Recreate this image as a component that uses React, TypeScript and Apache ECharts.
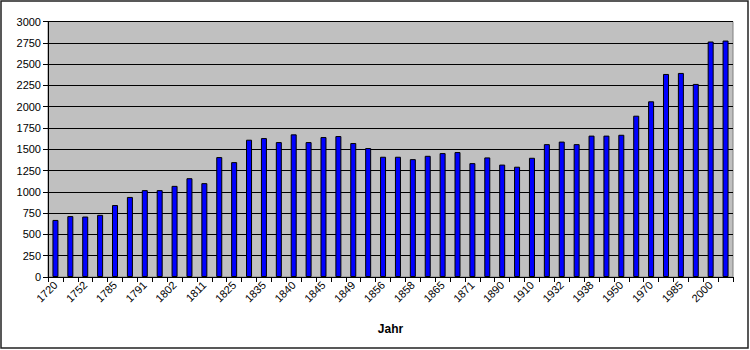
import React, { useEffect, useRef } from "react";
import * as echarts from "echarts";

const years: string[] = [
  "1720", "1740", "1752", "1770", "1785", "1789", "1791", "1800", "1802", "1805",
  "1811", "1818", "1825", "1830", "1835", "1837", "1840", "1843", "1845", "1847",
  "1849", "1852", "1856", "1857", "1858", "1861", "1865", "1867", "1871", "1880",
  "1890", "1900", "1910", "1925", "1932", "1935", "1938", "1946", "1950", "1961",
  "1970", "1980", "1985", "1990", "2000", "2005",
];

const population: number[] = [
  670, 715, 710, 730, 845, 940, 1020, 1020, 1070, 1160,
  1102, 1408, 1349, 1612, 1631, 1584, 1675, 1584, 1643, 1655,
  1573, 1514, 1412, 1412, 1384, 1423, 1455, 1467, 1337, 1404,
  1320, 1295, 1400, 1560, 1590, 1560, 1660, 1660, 1670, 1894,
  2063, 2384, 2396, 2267, 2765, 2776,
];

const yMax = 3000;
const yStep = 250;
const xTitle = "Jahr";

export default function App() {
  const ref = useRef<HTMLDivElement>(null);
  useEffect(() => {
    document.body.style.margin = "0";
    if (!ref.current) return;
    const chart = echarts.init(ref.current, null, { renderer: "svg" });
    chart.setOption({
      animation: false,
      backgroundColor: "#ffffff",
      textStyle: { fontFamily: "Liberation Sans, Arial, sans-serif" },
      graphic: [
        {
          type: "rect",
          shape: { x: 1, y: 1, width: 747, height: 347 },
          style: { fill: "none", stroke: "#222222", lineWidth: 1.5 },
          silent: true,
          z: 100,
        },
      ],
      grid: {
        left: 48,
        right: 17,
        top: 21.5,
        bottom: 73,
        show: true,
        backgroundColor: "#c0c0c0",
        borderColor: "#808080",
        borderWidth: 1,
      },
      xAxis: {
        type: "category",
        data: years,
        boundaryGap: true,
        name: xTitle,
        nameLocation: "middle",
        nameGap: 46,
        nameTextStyle: { fontWeight: "bold", fontSize: 12, color: "#000" },
        axisLine: { lineStyle: { color: "#000", width: 1 } },
        axisTick: { show: true, interval: 0, length: 5, lineStyle: { color: "#000" } },
        axisLabel: {
          interval: 1,
          rotate: 45,
          fontSize: 11,
          color: "#000",
          margin: 6,
        },
        splitLine: { show: false },
      },
      yAxis: {
        type: "value",
        min: 0,
        max: yMax,
        interval: yStep,
        axisLine: { show: true, lineStyle: { color: "#000", width: 1 } },
        axisTick: { show: true, length: 5, lineStyle: { color: "#000" } },
        axisLabel: {
          fontSize: 11,
          color: "#000",
          margin: 7,
          formatter: (v: number) => String(v),
        },
        splitLine: { show: true, lineStyle: { color: "#000", width: 1 } },
      },
      series: [
        {
          type: "bar",
          data: population,
          barWidth: 6,
          itemStyle: { color: "#0000ff", borderColor: "#000", borderWidth: 1 },
        },
      ],
    });
    return () => chart.dispose();
  }, []);
  return <div ref={ref} style={{ width: 750, height: 350 }} />;
}
